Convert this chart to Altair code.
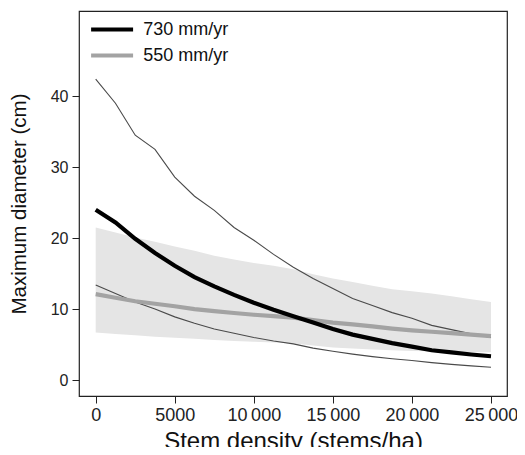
import altair as alt
import pandas as pd

# Stem density (stems/ha)
density = [0, 1250, 2500, 3750, 5000, 6250, 7500, 8750, 10000, 11250, 12500,
           13750, 15000, 16250, 17500, 18750, 20000, 21250, 22500, 23750, 25000]

# 730 mm/yr: median and interval bounds
mid_730 = [24.0, 22.2, 19.9, 17.9, 16.1, 14.5, 13.2, 12.0, 10.9, 9.9, 9.0,
           8.1, 7.2, 6.4, 5.8, 5.2, 4.7, 4.2, 3.9, 3.6, 3.35]
hi_730 = [42.4, 39.0, 34.5, 32.5, 28.6, 25.9, 23.9, 21.5, 19.7, 17.7, 15.9,
          14.3, 12.9, 11.5, 10.5, 9.5, 8.7, 7.7, 7.1, 6.5, 6.0]
lo_730 = [13.4, 12.2, 11.0, 10.0, 8.9, 8.0, 7.2, 6.6, 6.0, 5.5, 5.1,
          4.5, 4.05, 3.65, 3.3, 3.0, 2.75, 2.45, 2.2, 2.0, 1.8]

# 550 mm/yr: median and interval bounds
mid_550 = [12.1, 11.6, 11.1, 10.75, 10.4, 10.0, 9.7, 9.45, 9.2, 9.0, 8.8,
           8.45, 8.1, 7.85, 7.55, 7.25, 7.0, 6.8, 6.6, 6.4, 6.2]
hi_550 = [21.5, 20.8, 20.1, 19.5, 18.8, 18.2, 17.5, 17.0, 16.5, 16.1, 15.6,
          14.9, 14.3, 13.8, 13.3, 12.8, 12.5, 12.2, 11.8, 11.4, 11.0]
lo_550 = [6.7, 6.5, 6.3, 6.1, 5.95, 5.8, 5.65, 5.5, 5.4, 5.3, 5.15,
          4.85, 4.6, 4.45, 4.3, 4.2, 4.1, 4.05, 4.0, 3.95, 3.9]

series_names = ["730 mm/yr", "550 mm/yr"]
x_ticks = [0, 5000, 10000, 15000, 20000, 25000]
y_ticks = [0, 10, 20, 30, 40]

wide = pd.DataFrame({
    "density": density,
    "hi_730": hi_730, "lo_730": lo_730,
    "hi_550": hi_550, "lo_550": lo_550,
})

thin = pd.concat([
    pd.DataFrame({"density": density, "value": hi_730, "bound": "hi"}),
    pd.DataFrame({"density": density, "value": lo_730, "bound": "lo"}),
])

main = pd.concat([
    pd.DataFrame({"density": density, "value": mid_550, "series": series_names[1], "order": 0}),
    pd.DataFrame({"density": density, "value": mid_730, "series": series_names[0], "order": 1}),
])

FONT = "Liberation Sans"
thin_space = "\u2009"
label_expr = ("datum.value >= 10000 ? replace(format(datum.value, ',d'), ',', '"
              + thin_space + "') : format(datum.value, 'd')")

x_scale = alt.Scale(domain=[-1056, 26012], nice=False, zero=False)
y_scale = alt.Scale(domain=[-2.25, 52], nice=False, zero=False)

x_axis = alt.Axis(title="Stem density (stems/ha)", values=x_ticks, labelExpr=label_expr,
                  grid=False, domain=False, tickSize=7, labelPadding=3, titlePadding=5,
                  labelFontSize=18, titleFontSize=24)
y_axis = alt.Axis(title="Maximum diameter (cm)", values=y_ticks, grid=False, domain=False,
                  tickSize=7, labelPadding=4, titlePadding=21,
                  labelFontSize=16, titleFontSize=20.5)

band = alt.Chart(wide).mark_area(color="#e5e5e5", opacity=1).encode(
    x=alt.X("density:Q", scale=x_scale, axis=x_axis),
    y=alt.Y("lo_550:Q", scale=y_scale, axis=y_axis),
    y2="hi_550:Q",
)

thin_lines = alt.Chart(thin).mark_line(color="#4a4a4a", strokeWidth=1.1).encode(
    x=alt.X("density:Q", scale=x_scale),
    y=alt.Y("value:Q", scale=y_scale),
    detail="bound:N",
)

main_lines = alt.Chart(main).mark_line(strokeWidth=4.2).encode(
    x=alt.X("density:Q", scale=x_scale),
    y=alt.Y("value:Q", scale=y_scale),
    color=alt.Color(
        "series:N",
        scale=alt.Scale(domain=series_names, range=["#000000", "#a3a3a3"]),
        legend=alt.Legend(
            title=None, orient="none", legendX=22.6, legendY=8,
            symbolType="M-2.5,0H2.5", symbolSize=282, symbolStrokeWidth=4.2,
            labelFontSize=18, labelFont=FONT, labelColor="#111111",
            labelOffset=20.6, rowPadding=6,
        ),
    ),
    order="order:Q",
)

chart = alt.layer(band, thin_lines, main_lines).properties(
    width=428, height=385,
    autosize=alt.AutoSizeParams(type="none"),
    padding={"left": 71, "top": 3, "right": 10, "bottom": 51},
).configure_view(
    stroke="#222222", strokeWidth=1.2
).configure_axis(
    labelFont=FONT, titleFont=FONT,
    titleFontWeight="normal", labelColor="#222222", titleColor="#111111",
    tickColor="#222222",
)

chart.save("out.html", embed_options={"renderer": "svg", "actions": False})
